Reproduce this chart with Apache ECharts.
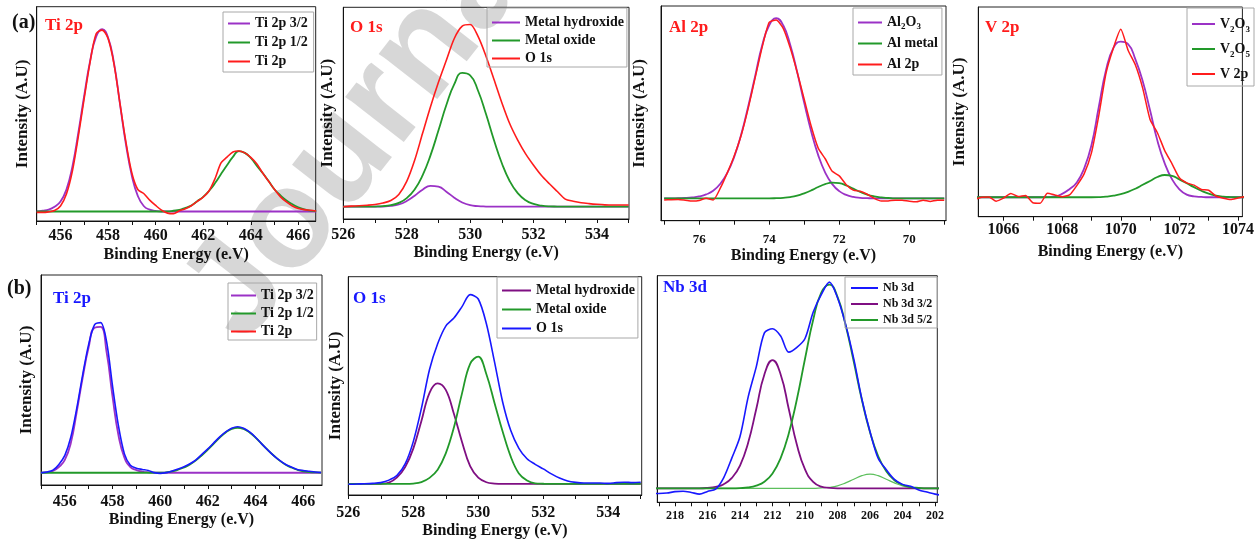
<!DOCTYPE html>
<html>
<head>
<meta charset="utf-8">
<script src="https://cdn.jsdelivr.net/npm/echarts@6/dist/echarts.min.js"></script>
<style>
  html, body { margin: 0; padding: 0; background: #fff; }
  #chart { width: 1257px; height: 544px; }
</style>
</head>
<body>
<div id="chart"></div>
<script>
// XPS fits: (a) Ti 2p, O 1s, Al 2p, V 2p   (b) Ti 2p, O 1s, Nb 3d
// binding energy grids (eV)
const E_TI = [455, 455.25, 455.5, 455.75, 456, 456.25, 456.5, 456.75, 457, 457.25, 457.5, 457.75, 458, 458.25, 458.5, 458.75,
  459, 459.25, 459.5, 459.75, 460, 460.25, 460.5, 460.75, 461, 461.25, 461.5, 461.75, 462, 462.25, 462.5, 462.75,
  463, 463.25, 463.5, 463.75, 464, 464.25, 464.5, 464.75, 465, 465.25, 465.5, 465.75, 466, 466.25, 466.5, 466.75];
const E_O = [526, 526.25, 526.5, 526.75, 527, 527.25, 527.5, 527.75, 528, 528.25, 528.5, 528.75, 529, 529.25, 529.5, 529.75,
  530, 530.25, 530.5, 530.75, 531, 531.25, 531.5, 531.75, 532, 532.25, 532.5, 532.75, 533, 533.25, 533.5, 533.75,
  534, 534.25, 534.5, 534.75, 535];
const E_AL = [69, 69.2, 69.4, 69.6, 69.8, 70, 70.2, 70.4, 70.6, 70.8, 71, 71.2, 71.4, 71.6, 71.8, 72, 72.2, 72.4, 72.6, 72.8,
  73, 73.2, 73.4, 73.6, 73.8, 74, 74.2, 74.4, 74.6, 74.8, 75, 75.2, 75.4, 75.6, 75.8, 76, 76.2, 76.4, 76.6, 76.8, 77];
const E_V = [1065, 1065.25, 1065.5, 1065.75, 1066, 1066.25, 1066.5, 1066.75, 1067, 1067.25, 1067.5, 1067.75, 1068, 1068.25,
  1068.5, 1068.75, 1069, 1069.25, 1069.5, 1069.75, 1070, 1070.25, 1070.5, 1070.75, 1071, 1071.25, 1071.5, 1071.75,
  1072, 1072.25, 1072.5, 1072.75, 1073, 1073.25, 1073.5, 1073.75, 1074, 1074.25];
const E_NB = [201.5, 202, 202.5, 203, 203.5, 204, 204.5, 205, 205.5, 206, 206.5, 207, 207.5, 208, 208.5, 209, 209.5, 210,
  210.5, 211, 211.5, 212, 212.5, 213, 213.5, 214, 214.5, 215, 215.5, 216, 216.5, 217, 217.5, 218, 218.5, 219, 219.5];

// (a) Ti 2p
const tiA_32 = [0, 0.4, 1, 2.6, 5.4, 12, 24.5, 43, 63.5, 82.5, 95.5, 99.5, 95, 81, 58.8, 36.8, 19.5, 8.5, 3, 1, 0.3,
  0, 0, 0, 0, 0, 0, 0, 0, 0, 0, 0, 0, 0, 0, 0, 0, 0, 0, 0, 0, 0, 0, 0, 0, 0, 0, 0];
const tiA_12 = [0, 0, 0, 0, 0, 0, 0, 0, 0, 0, 0, 0, 0, 0, 0, 0, 0, 0, 0, 0, 0, 0,
  0.05, 0.4, 0.85, 2, 3.3, 5.6, 8, 11.3, 15.5, 20.4, 25.2, 29.8, 33, 32, 29.2, 25, 21, 16.6, 12, 8.8, 6, 3.9, 2.3, 1.1, 0.5, 0.2];
const tiA_exp = [-0.5, -0.5, -0.2, 0.5, 3, 9.5, 22, 41, 62, 82, 97, 99, 94.5, 80.5, 59, 38, 21, 12, 9.8, 6.2, 3.3, 0.7,
  -0.9, -1.2, 0.4, 1.5, 3.1, 5.5, 7.8, 11.3, 18, 26.5, 29.7, 32.5, 33, 32, 29.5, 26, 21, 16.5, 12, 8, 5.2, 3, 1.6, 1, 0.7, 0.3];

// (a) O 1s
const oA_hyd = [0, 0, 0, 0, 0, 0.1, 0.4, 1.2, 3.1, 6, 9.3, 11.4, 10.9, 8.2, 4.9, 2.3, 0.8, 0.3, 0.1,
  0, 0, 0, 0, 0, 0, 0, 0, 0, 0, 0, 0, 0, 0, 0, 0, 0, 0];
const oA_oxi = [0, 0, 0, 0, 0.1, 0.3, 0.85, 2.1, 4.7, 9.4, 17.1, 28, 41.5, 55.4, 66.8, 72.9, 71.6, 63.2, 50.5, 36.4,
  23.7, 13.9, 7.4, 3.5, 1.5, 0.6, 0.2, 0.1, 0, 0, 0, 0, 0, 0, 0, 0, 0];
const oA_exp = [0, 0.3, 0.5, 0.8, 1.2, 2, 3.4, 6.7, 13.8, 25.3, 40, 54.5, 67.8, 79.8, 91.7, 98.4, 99.3, 92.8, 82, 69.5,
  56.7, 45.2, 36.3, 28.8, 22.6, 17, 12.5, 8.3, 4.1, 3, 2.2, 1.7, 1.3, 1, 0.9, 0.9, 0.9];

// (a) Al 2p
const al_ox = [0, 0, 0, 0, 0, 0, 0, 0, 0, 0, 0, 0.1, 0.3, 0.8, 1.9, 4, 7.9, 14.3, 24, 37.1, 53, 70, 85.3, 96.1, 100, 96.1,
  85, 68, 51, 35.5, 23, 14, 8, 4.2, 2.2, 1.1, 0.5, 0.2, 0.1, 0, 0];
const al_met = [0, 0, 0, 0, 0, 0, 0, 0, 0.2, 0.5, 1.1, 2.1, 3.6, 5.4, 7.2, 8.4, 8.7, 7.9, 6.3, 4.4, 2.8, 1.5, 0.7, 0.3, 0.1,
  0, 0, 0, 0, 0, 0, 0, 0, 0, 0, 0, 0, 0, 0, 0, 0];
const al_exp = [-1.1, -1, -1.7, -1, -1.9, -1.6, -1.1, -1, -1.4, -1.5, 0, 2.3, 3.9, 4.6, 7.6, 12.5, 15, 22, 27.9, 40, 55, 70,
  83.6, 94.4, 99, 97.7, 84, 67, 50, 35, 23.5, 14, 5.5, -0.9, 0.1, -1.2, -1.5, -1, -0.6, -0.7, -0.9];

// (a) V 2p
const v_23 = [0, 0, 0, 0, 0, 0, 0, 0, 0, 0, 0.1, 0.5, 2.2, 5.2, 9.5, 18.4, 33.4, 58, 82, 96, 100, 98.5, 88.6, 74.5, 55.9,
  36.4, 21.8, 11.6, 5.1, 1.7, 0.6, 0.2, 0, 0, 0, 0, 0, 0];
const v_25 = [0, 0, 0, 0, 0, 0, 0, 0, 0, 0, 0, 0, 0, 0, 0, 0, 0, 0.1, 0.4, 1, 2, 3.5, 5.5, 8, 10.5, 13, 14.3, 13.8, 11.5,
  9, 6.5, 4.2, 2.3, 1.1, 0.4, 0.1, 0, 0];
const v_exp = [-1.5, 0, 0.2, -2.5, -0.6, 2.4, 0.5, 1.2, -3.5, -3.8, 2.5, 1.5, 0.4, 1.5, 7.5, 15, 28.5, 52.5, 80, 96, 108,
  94.5, 85, 70, 50, 41.5, 30, 21.5, 12.5, 9.2, 7.8, 5, 4.5, 0.8, -0.6, -1.5, -0.5, 0.4];

// (b) Ti 2p
const tiB_32 = [0, 0.3, 1.2, 3.8, 8.5, 19.5, 40.4, 63, 83, 96, 96.5, 80, 50.5, 24.8, 10, 3.8, 1.8, 0.8, 0.3, 0.1,
  0, 0, 0, 0, 0, 0, 0, 0, 0, 0, 0, 0, 0, 0, 0, 0, 0, 0, 0, 0, 0, 0, 0, 0, 0, 0, 0, 0];
const tiB_12 = [0, 0, 0, 0, 0, 0, 0, 0, 0, 0, 0, 0, 0, 0, 0, 0, 0, 0, 0, 0,
  0.1, 0.3, 0.9, 2, 3.5, 5.5, 8.2, 11.6, 15.3, 19.3, 23.3, 26.7, 29, 29.8, 29, 26.7, 23.3, 19.3, 15.3, 11.6, 8.2, 5.5,
  3.5, 2, 1, 0.5, 0.2, 0.1];
const tiB_exp = [0, 0.5, 1.7, 5.5, 11.5, 23.5, 42.6, 65, 85, 98, 99.4, 87, 57.5, 31, 12.5, 5, 3, 2.2, 1.5, 0.1, -0.4, 0.1,
  1.2, 2.5, 4, 6, 8.6, 12.2, 15.8, 19.8, 23.7, 27, 29.5, 30.5, 29.5, 27, 23.5, 19.3, 15.3, 11.5, 8.3, 5.6, 3.8, 2.2,
  1.5, 1, 0.5, 0.2];

// (b) O 1s
const oB_hyd = [0, 0, 0, 0, 0.1, 0.7, 3.4, 8.8, 18.5, 33, 47.8, 52.7, 49.3, 36.8, 22, 9.3, 3.3, 0.9, 0.2,
  0, 0, 0, 0, 0, 0, 0, 0, 0, 0, 0, 0, 0, 0, 0, 0, 0, 0];
const oB_oxi = [0, 0, 0, 0, 0, 0, 0, 0, 0.2, 1, 3.2, 7.5, 16, 29.6, 47.5, 63, 66.8, 57.5, 42.5, 27.5, 14.3, 5.5, 1.8,
  0.3, 0.1, 0, 0, 0, 0, 0, 0, 0, 0, 0, 0, 0, 0];
const oB_exp = [-0.2, 0, 0.1, 0.3, 0.7, 2, 4.5, 10.5, 22.2, 39.6, 60, 73.5, 82.8, 87, 93, 99.3, 97, 84, 64, 43, 28, 18.7,
  13.2, 10.3, 7.9, 5.3, 3.1, 1.5, 0.8, 0.5, 0.5, 0.5, 0.3, 0.7, 0.9, 0.7, 0.9];

// (b) Nb 3d
const nb_32 = [0, 0, 0, 0, 0, 0, 0, 0, 0, 0, 0, 0, 0, 0, 0.2, 0.8, 3.1, 9.1, 21, 38.3, 54.9, 61.9, 54.9, 38.3, 22, 11, 5,
  2, 0.7, 0.2, 0, 0, 0, 0, 0, 0, 0];
const nb_52 = [0, 0, 0, 0.2, 0.6, 1.7, 3.9, 8.2, 15.6, 27.1, 42.6, 61, 78.7, 92.4, 98.3, 94.4, 81.2, 62.5, 43, 26.5, 14.6,
  7.2, 3.2, 1.3, 0.4, 0.1, 0, 0, 0, 0, 0, 0, 0, 0, 0, 0, 0];
const nb_sat = [0, 0, 0, 0, 0.5, 1.2, 2.6, 4.4, 6.1, 6.8, 6.1, 4.4, 2.6, 1.2, 0.5, 0.2, 0, 0, 0, 0, 0, 0, 0, 0, 0, 0, 0,
  0, 0, 0, 0, 0, 0, 0, 0, 0, 0];
const nb_exp = [-3.5, -2.8, -1.8, -0.8, 1, 1.9, 4.3, 9, 14.5, 27.3, 43, 62.5, 79, 92, 99.5, 93.5, 85, 72.3, 68, 65.7, 73.5,
  77, 75, 58.6, 44, 25, 14.7, 5.2, -0.4, -1.5, -2.8, -2, -1.4, -1.6, -2.3, -2.5, -2.5];

// tick values
const TICK_TI = [456, 458, 460, 462, 464, 466];
const TICK_O = [526, 528, 530, 532, 534];
const TICK_AL = [70, 72, 74, 76];
const TICK_V = [1066, 1068, 1070, 1072, 1074];
const TICK_NB = [202, 204, 206, 208, 210, 212, 214, 216, 218];
const MINOR_TI = [455, 456, 457, 458, 459, 460, 461, 462, 463, 464, 465, 466];
const MINOR_O = [526, 527, 528, 529, 530, 531, 532, 533, 534, 535];
const MINOR_AL = [69, 70, 71, 72, 73, 74, 75, 76, 77];
const MINOR_V = [1066, 1067, 1068, 1069, 1070, 1071, 1072, 1073, 1074];
const MINOR_NB = [202, 203, 204, 205, 206, 207, 208, 209, 210, 211, 212, 213, 214, 215, 216, 217, 218, 219];

const FONT = "'Liberation Serif', 'Times New Roman', serif";
const PURPLE = '#9b32c6';
const PURPLE_DK = '#7f0f82';
const GREEN = '#22992a';
const RED = '#ff1c1c';
const BLUE = '#1818ff';
const XNAME = 'Binding Energy (e.V)';
const YNAME = 'Intensity (A.U)';

const chart = echarts.init(document.getElementById('chart'), null, { renderer: 'canvas' });

const grids = [
  [36.7, 6.7, 279, 214.3],
  [343.3, 7.3, 285.7, 211.7],
  [661, 6, 285, 214.7],
  [978.3, 7, 277.7, 209.7],
  [41, 275, 281, 210],
  [348.3, 276.7, 293.4, 218.3],
  [657.3, 275.7, 280, 226.6]
].map(function (g) {
  return { left: g[0], top: g[1], width: g[2], height: g[3], show: true, borderColor: '#222', borderWidth: 1, containLabel: false };
});

function xAx(gi, min, max, labels, ticks, o) {
  return {
    type: 'value', gridIndex: gi, min: min, max: max, inverse: !!o.inverse,
    axisLine: { show: true, onZero: false, lineStyle: { color: '#111', width: 1 } },
    axisTick: { show: true, inside: false, length: 4, customValues: ticks, lineStyle: { color: '#111' } },
    axisLabel: {
      customValues: labels, color: '#111', fontFamily: FONT, fontWeight: 'bold', fontSize: o.fs || 16, margin: o.margin,
      formatter: function (v) { return String(v); }
    },
    splitLine: { show: false },
    name: o.noName ? '' : XNAME, nameLocation: 'middle', nameGap: o.gap || 26,
    nameTextStyle: { color: '#111', fontFamily: FONT, fontWeight: 'bold', fontSize: 16 }
  };
}
function yAx(gi, min, max, gap) {
  return {
    type: 'value', gridIndex: gi, min: min, max: max,
    axisLine: { show: true, onZero: false, lineStyle: { color: '#111', width: 1 } },
    axisTick: { show: false }, axisLabel: { show: false }, splitLine: { show: false },
    name: gap == null ? '' : YNAME, nameLocation: 'middle', nameRotate: 90, nameGap: gap || 0,
    nameTextStyle: { color: '#111', fontFamily: FONT, fontWeight: 'bold', fontSize: 17 }
  };
}

const xAxes = [
  xAx(0, 455, 466.73, TICK_TI, MINOR_TI, { margin: 7, gap: 26 }),
  xAx(1, 526, 535.01, TICK_O, MINOR_O, { margin: 8, gap: 26 }),
  xAx(2, 68.95, 77.09, TICK_AL, MINOR_AL, { margin: 12, gap: 27, fs: 13, inverse: true }),
  xAx(3, 1065.14, 1074.15, TICK_V, MINOR_V, { margin: 5, gap: 27 }),
  xAx(4, 455, 466.79, TICK_TI, MINOR_TI, { margin: 9, gap: 27 }),
  xAx(5, 526, 535.03, TICK_O, MINOR_O, { margin: 10, gap: 28 }),
  xAx(6, 201.86, 219.09, TICK_NB, MINOR_NB, { margin: 8, fs: 12, inverse: true, noName: true })
];
const yAxes = [
  yAx(0, -5.2, 111.8, 6),
  yAx(1, -6.7, 108.7, 7),
  yAx(2, -12.4, 106.8, 13),
  yAx(3, -12.5, 122.3, 10),
  yAx(4, -8.1, 130.9, 6),
  yAx(5, -5.8, 108.7, 4),
  yAx(6, -6.75, 102.6, null)
];

function line(name, gi, E, V, color, width, smooth) {
  return {
    name: name, type: 'line', xAxisIndex: gi, yAxisIndex: gi,
    data: E.map(function (e, i) { return [e, V[i]]; }),
    symbol: 'none', smooth: smooth, silent: true,
    lineStyle: { color: color, width: width }, itemStyle: { color: color }
  };
}

const series = [
  line('Ti 2p 3/2', 0, E_TI, tiA_32, PURPLE, 1.8, true),
  line('Ti 2p 1/2', 0, E_TI, tiA_12, GREEN, 1.8, true),
  line('Ti 2p', 0, E_TI, tiA_exp, RED, 1.6, 0.3),

  line('Metal hydroxide', 1, E_O, oA_hyd, PURPLE, 1.8, true),
  line('Metal oxide', 1, E_O, oA_oxi, GREEN, 1.8, true),
  line('O 1s', 1, E_O, oA_exp, RED, 1.6, 0.3),

  line('Al2O3', 2, E_AL, al_ox, PURPLE, 1.8, true),
  line('Al metal', 2, E_AL, al_met, GREEN, 1.8, true),
  line('Al 2p', 2, E_AL, al_exp, RED, 1.5, 0.2),

  line('V2O3', 3, E_V, v_23, PURPLE, 1.8, true),
  line('V2O5', 3, E_V, v_25, GREEN, 1.8, true),
  line('V 2p', 3, E_V, v_exp, RED, 1.5, 0.2),

  line('Ti 2p 3/2', 4, E_TI, tiB_32, PURPLE, 1.8, true),
  line('Ti 2p 1/2', 4, E_TI, tiB_12, GREEN, 1.8, true),
  line('Ti 2p (b)', 4, E_TI, tiB_exp, BLUE, 1.6, 0.3),

  line('Metal hydroxide', 5, E_O, oB_hyd, PURPLE_DK, 1.8, 0.4),
  line('Metal oxide', 5, E_O, oB_oxi, GREEN, 1.8, 0.4),
  line('O 1s', 5, E_O, oB_exp, BLUE, 1.6, 0.3),

  line('Nb 3d sat', 6, E_NB, nb_sat, '#5cbf5c', 1.2, true),
  line('Nb 3d 3/2', 6, E_NB, nb_32, PURPLE_DK, 1.8, true),
  line('Nb 3d 5/2', 6, E_NB, nb_52, GREEN, 1.8, true),
  line('Nb 3d', 6, E_NB, nb_exp, BLUE, 1.6, 0.3)
];

const subRich = { s: { fontFamily: FONT, fontWeight: 'bold', fontSize: 9, color: '#111', verticalAlign: 'bottom' } };
const SUBS = { 'Al2O3': 'Al{s|2}O{s|3}', 'V2O3': 'V{s|2}O{s|3}', 'V2O5': 'V{s|2}O{s|5}' };

function legend(names, colors, left, top, o) {
  return {
    orient: 'vertical', left: left, top: top, selectedMode: false,
    data: names.map(function (n, i) {
      return { name: n, icon: 'rect', itemStyle: { color: colors[i] } };
    }),
    itemWidth: o.iw, itemHeight: 2, itemGap: o.gap, padding: o.pad,
    borderColor: '#a8a8a8', borderWidth: 1, backgroundColor: 'transparent',
    formatter: function (n) { return SUBS[n] || n; },
    textStyle: { fontFamily: FONT, fontWeight: 'bold', fontSize: o.fs || 14, color: '#111', lineHeight: o.lh || 15, rich: subRich }
  };
}

const legends = [
  legend(['Ti 2p 3/2', 'Ti 2p 1/2', 'Ti 2p'], [PURPLE, GREEN, RED], 223, 12, { iw: 22, gap: 4, pad: [4, 6, 3, 5] }),
  legend(['Metal hydroxide', 'Metal oxide', 'O 1s'], [PURPLE, GREEN, RED], 487, 8, { iw: 28, gap: 3, pad: [7, 3, 1, 5] }),
  legend(['Al2O3', 'Al metal', 'Al 2p'], [PURPLE, GREEN, RED], 853, 8, { iw: 24, gap: 4, pad: [6, 4, 2, 5], lh: 17 }),
  legend(['V2O3', 'V2O5', 'V 2p'], [PURPLE, GREEN, RED], 1187, 8, { iw: 23, gap: 5, pad: [6, 4, 2, 5], lh: 20 }),
  legend(['Ti 2p 3/2', 'Ti 2p 1/2', 'Ti 2p'], [PURPLE, GREEN, RED], 228, 283, { iw: 25, gap: 3, pad: [5, 3, 1, 3] }),
  legend(['Metal hydroxide', 'Metal oxide', 'O 1s'], [PURPLE_DK, GREEN, BLUE], 497, 277, { iw: 29, gap: 4, pad: [6, 3, 2, 5] }),
  legend(['Nb 3d', 'Nb 3d 3/2', 'Nb 3d 5/2'], [BLUE, PURPLE_DK, GREEN], 845, 277, { iw: 27, gap: 2, pad: [4, 5, 1, 6], fs: 12, lh: 14 })
];

function label(text, x, y, size, color) {
  return {
    type: 'text', x: x, y: y, silent: true, z: 50,
    style: { text: text, fill: color, font: 'bold ' + size + 'px ' + FONT, textAlign: 'left', textVerticalAlign: 'middle' }
  };
}

const graphics = [
  {
    type: 'text', x: 214, y: 322, rotation: 52 * Math.PI / 180, silent: true, z: -10,
    style: { text: 'Journal', fill: 'rgba(160,160,160,0.42)', font: 'bold 140px "Liberation Sans", Arial, sans-serif', textAlign: 'left', textVerticalAlign: 'middle' }
  },
  label('(a)', 12, 22.5, 20, '#111'),
  label('Ti 2p', 45, 25.5, 17, RED),
  label('O 1s', 350, 28, 17, RED),
  label('Al 2p', 669, 28, 17, RED),
  label('V 2p', 985, 28, 17, RED),
  label('(b)', 7, 289, 20, '#111'),
  label('Ti 2p', 53, 298.5, 17, BLUE),
  label('O 1s', 353, 298.5, 17, BLUE),
  label('Nb 3d', 663, 287.5, 17, BLUE)
];

chart.setOption({
  animation: false,
  backgroundColor: '#fff',
  grid: grids,
  xAxis: xAxes,
  yAxis: yAxes,
  legend: legends,
  series: series,
  graphic: graphics
});
</script>
</body>
</html>
